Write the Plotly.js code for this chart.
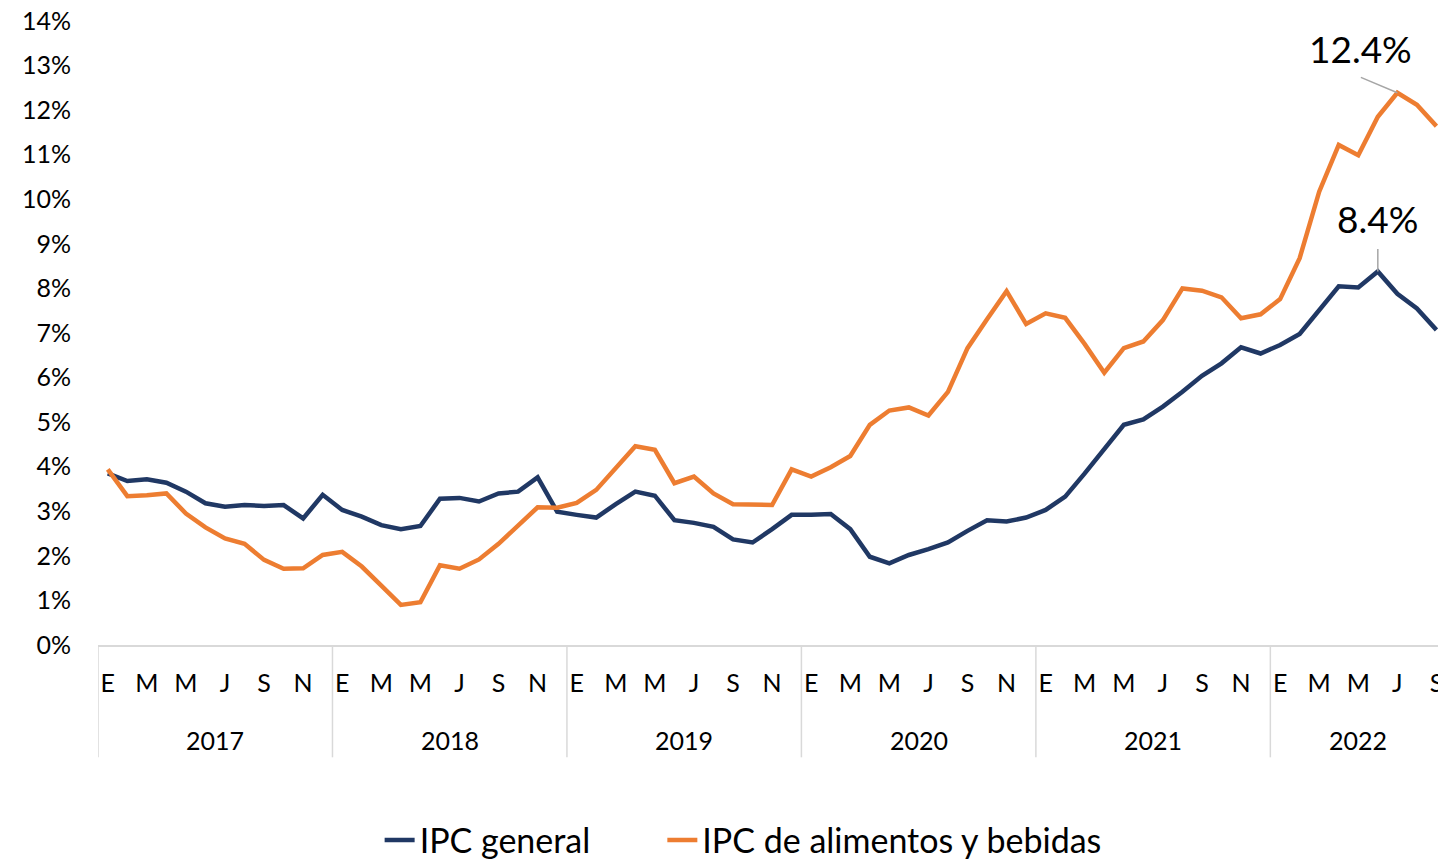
<!DOCTYPE html>
<html>
<head>
<meta charset="utf-8">
<script src="https://cdn.plot.ly/plotly-3.0.1.min.js"></script>
<style>
  html, body { margin: 0; padding: 0; background: #fff; }
  #myDiv { width: 1438px; height: 861px; }
</style>
</head>
<body>
<div id="myDiv"></div>
<script>
var years = ['2017', '2018', '2019', '2020', '2021', '2022']
var monthLetters = ['E', 'F', 'M', 'A', 'M', 'J', 'J', 'A', 'S', 'O', 'N', 'D']

// inflacion anual, %, enero 2017 - septiembre 2022
var ipcGeneral = [
  3.85, 3.68, 3.72, 3.64, 3.44, 3.18, 3.10, 3.14, 3.12, 3.14, 2.84, 3.37,
  3.03, 2.88, 2.69, 2.60, 2.67, 3.28, 3.30, 3.22, 3.40, 3.44, 3.76, 2.99,
  2.92, 2.86, 3.16, 3.44, 3.35, 2.80, 2.74, 2.65, 2.37, 2.30, 2.60, 2.92,
  2.92, 2.94, 2.60, 1.98, 1.83, 2.02, 2.15, 2.30, 2.56, 2.80, 2.77, 2.86,
  3.03, 3.33, 3.85, 4.39, 4.94, 5.06, 5.35, 5.68, 6.04, 6.32, 6.68, 6.54,
  6.73, 6.98, 7.52, 8.05, 8.02, 8.38, 7.88, 7.55, 7.07
]
var ipcAlimentos = [
  3.94, 3.34, 3.36, 3.40, 2.95, 2.64, 2.39, 2.27, 1.91, 1.71, 1.72, 2.02,
  2.09, 1.76, 1.33, 0.90, 0.96, 1.79, 1.71, 1.92, 2.27, 2.69, 3.09, 3.08,
  3.19, 3.48, 3.98, 4.46, 4.38, 3.63, 3.78, 3.40, 3.16, 3.14, 3.14, 3.94,
  3.78, 3.99, 4.24, 4.94, 5.26, 5.33, 5.15, 5.68, 6.66, 7.31, 7.94, 7.20,
  7.44, 7.34, 6.75, 6.11, 6.66, 6.81, 7.29, 8.00, 7.95, 7.80, 7.33, 7.42,
  7.76, 8.68, 10.17, 11.22, 10.99, 11.85, 12.39, 12.12, 11.64
]

var x = ipcGeneral.map(function (v, i) { return i })
var n = x.length

// etiquetas de mes cada dos meses (E M M J S N)
var tickvals = []
var ticktext = []
for (var i = 0; i < n; i += 2) {
  tickvals.push(i)
  ticktext.push(monthLetters[i % 12])
}

var axisFont = {family: 'Lato, sans-serif', size: 25, color: '#000'}
var legendFont = {family: 'Lato, sans-serif', size: 34, color: '#000'}
var gridGrey = '#d9d9d9'

var trace1 = {
  type: 'scatter',
  mode: 'lines',
  name: 'IPC general',
  x: x,
  y: ipcGeneral,
  line: {color: '#203864', width: 4.5},
  legend: 'legend',
  hoverinfo: 'y'
}

var trace2 = {
  type: 'scatter',
  mode: 'lines',
  name: 'IPC de alimentos y bebidas',
  x: x,
  y: ipcAlimentos,
  line: {color: '#ed7d31', width: 4.5},
  legend: 'legend2',
  hoverinfo: 'y'
}

// nombres de año (centrados en sus meses) y separadores debajo del eje
var shapes = []
var annotations = []
years.forEach(function (yr, k) {
  var first = 12 * k
  var last = Math.min(12 * k + 11, n - 1)
  shapes.push({
    type: 'line', xref: 'x', yref: 'paper',
    x0: first - 0.5, x1: first - 0.5, y0: 0, y1: -0.18,
    line: {color: gridGrey, width: 1.5}
  })
  annotations.push({
    xref: 'x', yref: 'paper',
    x: (first + last) / 2, y: -0.152,
    text: yr, showarrow: false,
    xanchor: 'center', yanchor: 'middle',
    font: axisFont
  })
})

// etiquetas de maximos
var iGen = ipcGeneral.indexOf(Math.max.apply(null, ipcGeneral))
var iAli = ipcAlimentos.indexOf(Math.max.apply(null, ipcAlimentos))
var labelFont = {family: 'Lato, sans-serif', size: 37, color: '#000'}

annotations.push({
  x: iAli, y: ipcAlimentos[iAli], xref: 'x', yref: 'y',
  text: ipcAlimentos[iAli].toFixed(1) + '%', showarrow: false,
  xshift: -37, yshift: 44, font: labelFont
})
annotations.push({
  x: iAli, y: ipcAlimentos[iAli], xref: 'x', yref: 'y',
  text: '', showarrow: true, arrowhead: 0, arrowwidth: 1.5,
  arrowcolor: '#a6a6a6', ax: -38, ay: -16, standoff: 0, font: {size: 1}
})
annotations.push({
  x: iGen, y: ipcGeneral[iGen], xref: 'x', yref: 'y',
  text: ipcGeneral[iGen].toFixed(1) + '%', showarrow: false,
  xshift: 0, yshift: 53, font: labelFont
})
annotations.push({
  x: iGen, y: ipcGeneral[iGen], xref: 'x', yref: 'y',
  text: '', showarrow: true, arrowhead: 0, arrowwidth: 1.5,
  arrowcolor: '#a6a6a6', ax: 0, ay: -24, standoff: 0, font: {size: 1}
})

var layout = {
  width: 1438,
  height: 861,
  margin: {l: 98, r: 0, t: 21, b: 216, pad: 0, autoexpand: false},
  paper_bgcolor: '#fff',
  plot_bgcolor: '#fff',
  showlegend: true,
  legend: {
    orientation: 'h',
    xref: 'container', yref: 'container',
    x: 0.264, xanchor: 'left',
    y: 0.024, yanchor: 'middle',
    font: legendFont
  },
  legend2: {
    orientation: 'h',
    xref: 'container', yref: 'container',
    x: 0.4606, xanchor: 'left',
    y: 0.024, yanchor: 'middle',
    font: legendFont
  },
  xaxis: {
    range: [-0.5, 68.08],
    tickvals: tickvals,
    ticktext: ticktext,
    tickangle: 0,
    showgrid: false,
    zeroline: false,
    showline: true,
    linecolor: gridGrey,
    linewidth: 1.5,
    ticks: '',
    ticklabelstandoff: 15,
    ticklabeloverflow: 'allow',
    tickfont: axisFont
  },
  yaxis: {
    range: [0, 14],
    dtick: 1,
    tick0: 0,
    ticksuffix: '%',
    showgrid: false,
    zeroline: false,
    showline: false,
    ticks: '',
    ticklabelstandoff: 26,
    tickfont: axisFont
  },
  shapes: shapes,
  annotations: annotations
}

Plotly.newPlot('myDiv', [trace1, trace2], layout, {displayModeBar: false})
</script>
</body>
</html>
